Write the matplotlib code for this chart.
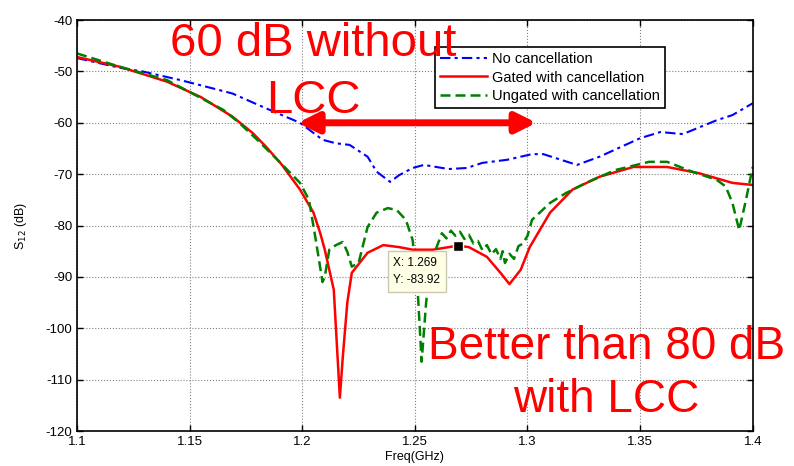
import matplotlib
matplotlib.use("Agg")
import matplotlib.pyplot as plt
from matplotlib.patches import FancyArrowPatch

plt.rcParams['font.family'] = ['Liberation Sans', 'DejaVu Sans']
plt.rcParams['axes.unicode_minus'] = False

# ---- data ----
blue_x = [1.100, 1.119, 1.129, 1.146, 1.162, 1.169, 1.184, 1.199, 1.209, 1.215, 1.221,
          1.229, 1.233, 1.239, 1.243, 1.249, 1.254, 1.265, 1.273, 1.280, 1.291, 1.302,
          1.307, 1.322, 1.332, 1.350, 1.359, 1.369, 1.384, 1.391, 1.400]
blue_y = [-47.4, -49.3, -50.0, -51.7, -53.5, -54.3, -57.2, -60.0, -63.3, -64.0, -64.3,
          -66.6, -69.5, -71.5, -70.2, -68.8, -68.2, -69.0, -68.8, -67.8, -67.2, -66.1,
          -66.1, -68.2, -66.6, -63.0, -61.8, -62.2, -59.5, -58.5, -56.2]

red_x = [1.100, 1.119, 1.140, 1.155, 1.169, 1.178, 1.184, 1.191, 1.199, 1.205, 1.208,
         1.210, 1.214, 1.215, 1.2167, 1.218, 1.220, 1.222, 1.229, 1.236, 1.243, 1.249,
         1.258, 1.269, 1.274, 1.282, 1.288, 1.292, 1.297, 1.301, 1.310, 1.320, 1.332,
         1.347, 1.362, 1.376, 1.391, 1.400]
red_y = [-47.2, -49.1, -52.0, -55.0, -58.8, -62.0, -64.7, -68.2, -73.0, -77.5, -81.5,
         -84.7, -92.5, -100.3, -113.5, -105.6, -95.0, -89.2, -85.3, -83.8, -84.2, -84.7,
         -84.7, -83.92, -84.2, -86.1, -89.2, -91.4, -88.6, -84.2, -77.5, -73.0, -70.5,
         -68.6, -68.6, -69.8, -71.7, -72.1]

green_x = [1.100, 1.119, 1.140, 1.165, 1.172, 1.180, 1.189, 1.199, 1.203, 1.206, 1.209,
           1.210, 1.212, 1.215, 1.218, 1.220, 1.222, 1.225, 1.229, 1.233, 1.238, 1.242,
           1.246, 1.249, 1.251, 1.253, 1.255, 1.257, 1.260, 1.262, 1.264, 1.266, 1.268,
           1.270, 1.272, 1.274, 1.276, 1.278, 1.280, 1.282, 1.284, 1.286, 1.288, 1.289,
           1.290, 1.292, 1.294, 1.296, 1.298, 1.300, 1.302, 1.310, 1.317, 1.326, 1.339,
           1.354, 1.362, 1.373, 1.384, 1.388, 1.391, 1.394, 1.397, 1.400]
green_y = [-46.5, -49.1, -51.7, -57.5, -60.0, -63.3, -67.2, -71.7, -75.0, -82.8, -91.0,
           -90.0, -84.7, -83.8, -83.2, -85.1, -88.0, -87.3, -80.3, -77.5, -76.6, -77.0,
           -78.9, -82.8, -90.6, -106.5, -95.0, -87.3, -83.8, -81.5, -82.5, -81.0, -82.0,
           -81.2, -82.6, -81.8, -83.5, -83.0, -84.8, -83.8, -85.6, -84.6, -86.5, -85.0,
           -87.3, -85.5, -86.5, -84.0, -83.5, -82.0, -78.9, -75.6, -73.7, -71.7, -69.2,
           -67.6, -67.6, -69.5, -71.1, -72.4, -75.6, -80.9, -75.0, -68.6]

legend_labels = ["No cancellation", "Gated with cancellation", "Ungated with cancellation"]
x_ticks = [1.1, 1.15, 1.2, 1.25, 1.3, 1.35, 1.4]
x_ticklabels = ["1.1", "1.15", "1.2", "1.25", "1.3", "1.35", "1.4"]
y_ticks = [-120, -110, -100, -90, -80, -70, -60, -50, -40]

tip_x, tip_y = 1.269, -83.92
arrow_x = [1.198, 1.304]
arrow_y = -60

fig = plt.figure(figsize=(7.94, 4.66), dpi=100)
ax = fig.add_axes([0.097, 0.075, 0.851, 0.882])

ax.plot(blue_x, blue_y, color='#0000ff', lw=1.5, linestyle=(0, (5, 2, 1.5, 2)), label=legend_labels[0])
ax.plot(red_x, red_y, color='#ff0000', lw=1.8, linestyle='-', label=legend_labels[1])
ax.plot(green_x, green_y, color='#008000', lw=1.8, linestyle=(0, (4, 2)), label=legend_labels[2])

ax.set_xlim(1.1, 1.4)
ax.set_ylim(-120, -40)
ax.set_xticks(x_ticks)
ax.set_xticklabels(x_ticklabels)
ax.set_yticks(y_ticks)
ax.tick_params(direction='in', top=True, right=True, labelsize=9.5, length=4, width=1)
ax.grid(True, color='#808080', linestyle=':', lw=0.8)
for s in ax.spines.values():
    s.set_linewidth(1.2)
ax.set_xlabel("Freq(GHz)", fontsize=9, labelpad=2)
ax.set_ylabel("S$_{12}$ (dB)", fontsize=9, labelpad=12)

leg = ax.legend(loc='upper left', bbox_to_anchor=(0.5295, 0.935), fontsize=10.5, frameon=True,
                fancybox=False, edgecolor='black', framealpha=1, handlelength=3.2,
                borderpad=0.35, labelspacing=0.32, handletextpad=0.4, borderaxespad=0)
leg.get_frame().set_linewidth(1.2)

# arrow
arr = FancyArrowPatch((arrow_x[0], arrow_y), (arrow_x[1], arrow_y), arrowstyle='<|-|>',
                      mutation_scale=30, color='#ff0000', lw=5, zorder=6,
                      shrinkA=0, shrinkB=0)
ax.add_patch(arr)

# annotations
ax.text(1.205, -44.6, "60 dB without", color='#ff0000', fontsize=34, ha='center', va='center', zorder=7)
ax.text(1.205, -55.8, "LCC", color='#ff0000', fontsize=34, ha='center', va='center', zorder=7)
ax.text(1.335, -103.6, "Better than 80 dB", color='#ff0000', fontsize=33, ha='center', va='center', zorder=7)
ax.text(1.335, -113.9, "with LCC", color='#ff0000', fontsize=33, ha='center', va='center', zorder=7)

# data tip
ax.plot([tip_x], [tip_y], marker='s', color='black', markersize=6.5, markeredgecolor='#ffffe0', zorder=8)
ax.text(1.2405, -88.9, "X: %.3f\nY: %.2f" % (tip_x, tip_y), fontsize=8.5, ha='left', va='center',
        linespacing=1.6, zorder=8,
        bbox=dict(boxstyle='square,pad=0.5', facecolor='#ffffe6', edgecolor='#c8c8b4', lw=1))

fig.savefig("out.png", dpi=100)
